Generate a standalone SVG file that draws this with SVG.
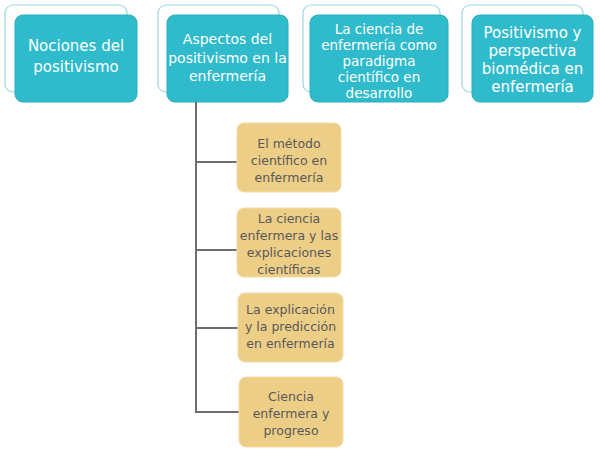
<svg xmlns="http://www.w3.org/2000/svg" width="600" height="456" viewBox="0 0 600 456">
<style>
.back{fill:#ffffff;stroke:#9ad9e1;stroke-width:1.2}
.front{fill:#30bbcc;stroke:#2aaebe;stroke-width:1}
.tt{font-family:"DejaVu Sans",sans-serif;font-size:15px;fill:#ffffff;text-anchor:middle}
.tt2{font-size:14px}
.tt3{font-size:13.5px}
.child{fill:#edce87;stroke:#f3dca6;stroke-width:1}
.ct{font-family:"DejaVu Sans",sans-serif;font-size:12.5px;fill:#595959;text-anchor:middle}
.conn{stroke:#6e6e6e;stroke-width:2;fill:none}
</style>
<rect width="600" height="456" fill="#ffffff"/>
<g id="n1">
<rect class="back" x="5" y="5" width="122" height="87" rx="8"/>
<rect class="front" x="15" y="15" width="122" height="87" rx="8"/>
<text class="tt" x="76" y="51">Nociones del</text>
<text class="tt" x="76" y="72">positivismo</text>
</g>
<g id="n2">
<rect class="back" x="158" y="5" width="121" height="87" rx="8"/>
<rect class="front" x="167" y="15" width="121" height="87" rx="8"/>
<text class="tt tt2" x="227.5" y="44">Aspectos del</text>
<text class="tt tt2" x="227.5" y="63">positivismo en la</text>
<text class="tt tt2" x="227.5" y="81">enfermería</text>
</g>
<g id="n3">
<rect class="back" x="303" y="5" width="137" height="87" rx="8"/>
<rect class="front" x="310" y="15" width="138" height="87" rx="8"/>
<text class="tt tt3" x="379" y="34">La ciencia de</text>
<text class="tt tt3" x="379" y="50">enfermería como</text>
<text class="tt tt3" x="379" y="66">paradigma</text>
<text class="tt tt3" x="379" y="82">científico en</text>
<text class="tt tt3" x="379" y="98">desarrollo</text>
</g>
<g id="n4">
<rect class="back" x="462" y="5" width="121" height="87" rx="8"/>
<rect class="front" x="472" y="15" width="121" height="87" rx="8"/>
<text class="tt" x="532.5" y="38">Positivismo y</text>
<text class="tt" x="532.5" y="56">perspectiva</text>
<text class="tt" x="532.5" y="74">biomédica en</text>
<text class="tt" x="532.5" y="92">enfermería</text>
</g>
<g id="connectors">
<path class="conn" d="M196 102 V412"/>
<path class="conn" d="M196 162 H237"/>
<path class="conn" d="M196 250 H237"/>
<path class="conn" d="M196 328 H238"/>
<path class="conn" d="M195 412 H239"/>
</g>
<g id="c1">
<rect class="child" x="237" y="123" width="104" height="69" rx="7"/>
<text class="ct" x="289" y="148">El método</text>
<text class="ct" x="289" y="165">científico en</text>
<text class="ct" x="289" y="182">enfermería</text>
</g>
<g id="c2">
<rect class="child" x="237" y="208" width="104" height="69" rx="7"/>
<text class="ct" x="289" y="223">La ciencia</text>
<text class="ct" x="289" y="240">enfermera y las</text>
<text class="ct" x="289" y="257">explicaciones</text>
<text class="ct" x="289" y="274">científicas</text>
</g>
<g id="c3">
<rect class="child" x="238" y="293" width="105" height="69" rx="7"/>
<text class="ct" x="290.5" y="314">La explicación</text>
<text class="ct" x="290.5" y="331">y la predicción</text>
<text class="ct" x="290.5" y="348">en enfermería</text>
</g>
<g id="c4">
<rect class="child" x="239" y="377" width="104" height="70" rx="7"/>
<text class="ct" x="291" y="401">Ciencia</text>
<text class="ct" x="291" y="418">enfermera y</text>
<text class="ct" x="291" y="435">progreso</text>
</g>
</svg>
